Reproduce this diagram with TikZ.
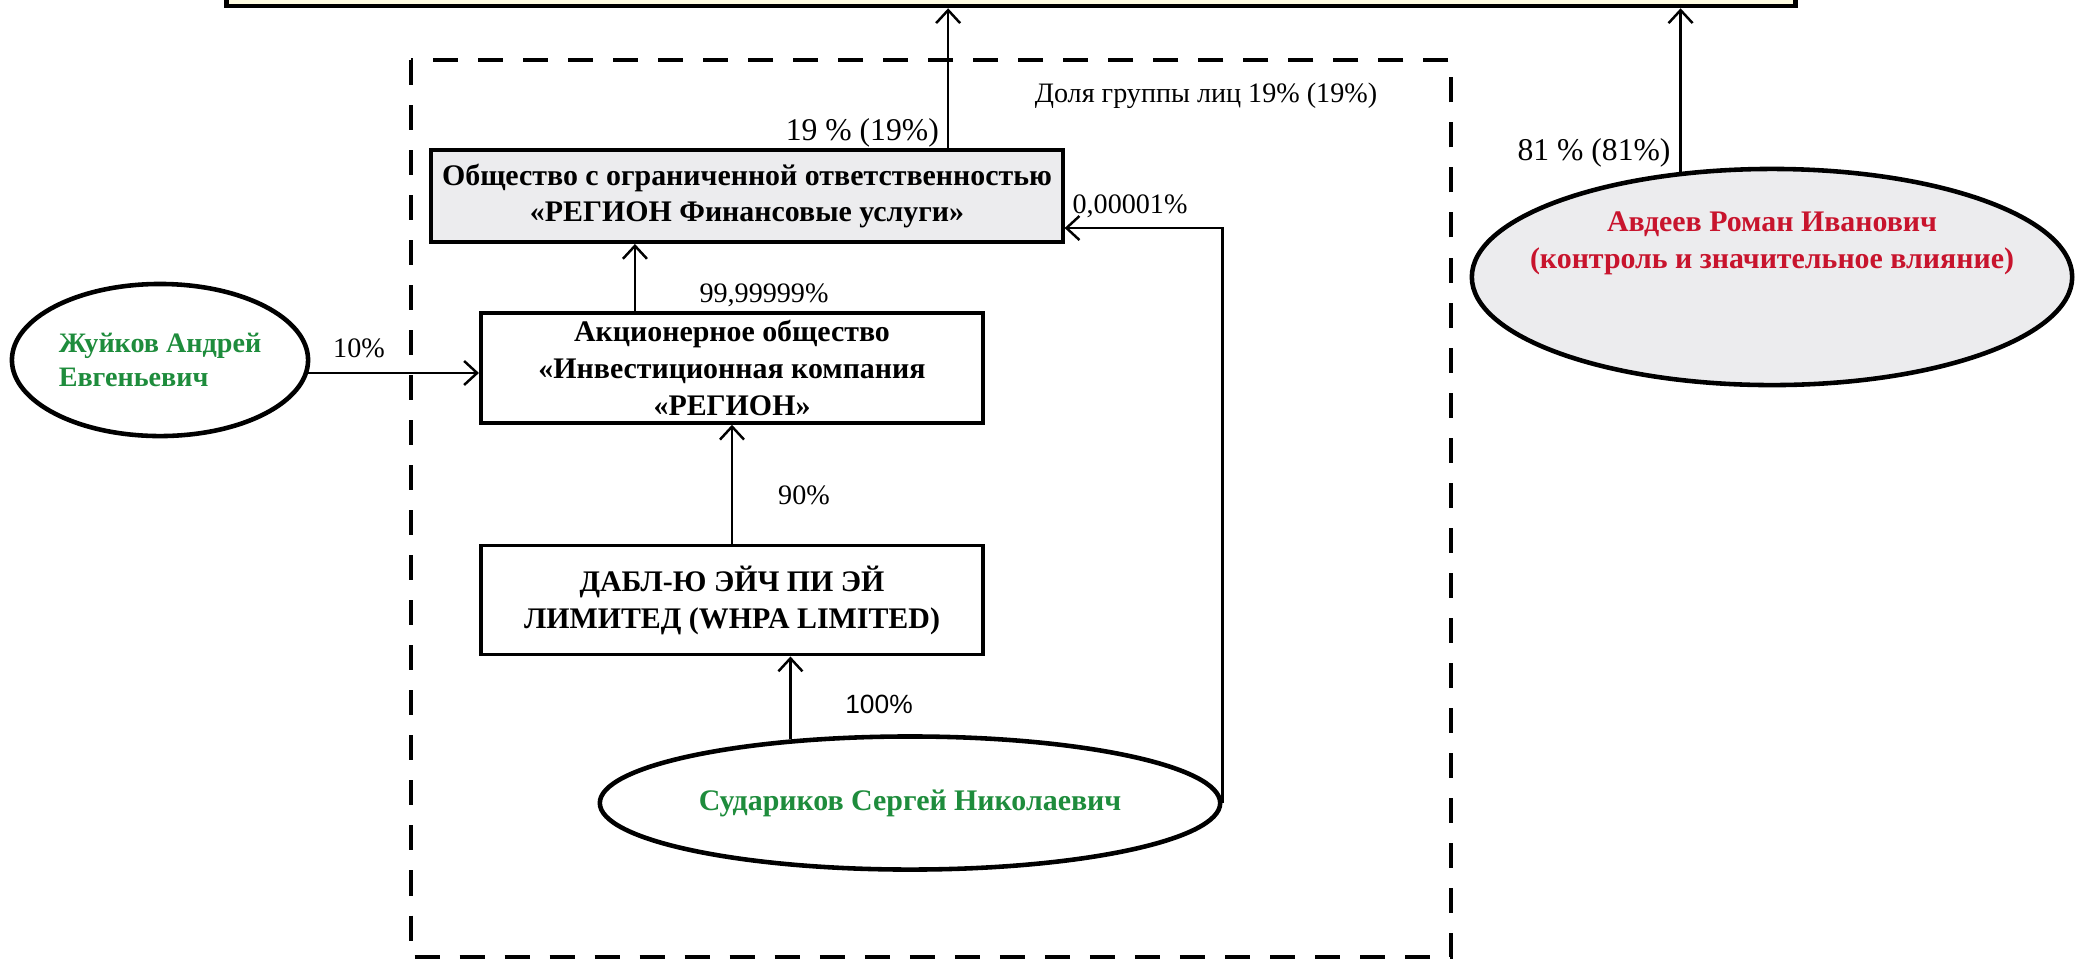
\documentclass[tikz,border=0pt]{standalone}
\usepackage{fontspec}
\setmainfont{Liberation Serif}
\newfontfamily\arialfont{Liberation Sans}
\usetikzlibrary{positioning}
\usetikzlibrary{shapes.geometric}
\usetikzlibrary{arrows.meta}

\definecolor{ownergreen}{RGB}{30,140,60}
\definecolor{ownerred}{RGB}{200,20,45}
\definecolor{boxgray}{RGB}{236,236,238}
\definecolor{targetyellow}{RGB}{255,252,225}

\begin{document}
\begin{tikzpicture}[
x=0.01cm, y=-0.01cm,
>={Straight Barb[length=1.3mm,width=2.4mm]},
firmnode/.style={rectangle, draw=black, line width=1.1pt, fill=white, align=center, inner sep=2pt, font=\fontsize{8.5}{10.5}\selectfont\bfseries},
personnode/.style={ellipse, draw=black, line width=1.3pt, fill=white, inner sep=0pt, align=center, font=\fontsize{8.5}{10.5}\selectfont\bfseries},
sharelabel/.style={inner sep=1pt, font=\fontsize{8}{9.6}\selectfont},
biglabel/.style={inner sep=1pt, font=\fontsize{9}{10.8}\selectfont},
link/.style={->, line width=0.7pt},
]
\useasboundingbox (0,0) rectangle (2083,960);

% Target company at the top (cut off)
\node[rectangle, draw=black, line width=1.3pt, fill=targetyellow, minimum width=15.68cm, minimum height=0.52cm] (target) at (1011,-20) {};

% Group of persons
\draw[line width=1.4pt, dash pattern=on 0.25cm off 0.2cm] (411,60) rectangle (1451,957);
\node[sharelabel] (grouplabel) at (1206,96) {Доля группы лиц 19\% (19\%)};

% Company nodes
\node[firmnode, fill=boxgray, minimum width=6.31cm, minimum height=0.92cm] (regionfs) at (747,196) {Общество с ограниченной ответственностью\\«РЕГИОН Финансовые услуги»};
\node[firmnode, minimum width=5.02cm, minimum height=0.98cm] (regionic) at (732,368) {Акционерное общество\\«Инвестиционная компания\\«РЕГИОН»};
\node[firmnode, minimum width=5.02cm, minimum height=1.09cm] (whpa) at (732,600) {ДАБЛ-Ю ЭЙЧ ПИ ЭЙ\\ЛИМИТЕД (WHPA LIMITED)};

% Person nodes
\node[personnode, text=ownergreen, align=left, minimum width=2.96cm, minimum height=1.52cm, font=\fontsize{8}{9.8}\selectfont\bfseries] (zhuikov) at (160,360) {Жуйков Андрей\\Евгеньевич};
\node[personnode, text=ownergreen, minimum width=6.2cm, minimum height=1.33cm] (sudarikov) at (910,803) {Судариков Сергей Николаевич};
\node[personnode, fill=boxgray, minimum width=6.0cm, minimum height=2.16cm] (avdeev) at (1772,277) {};
\node[align=center, text=ownerred, font=\fontsize{8.5}{10.5}\selectfont\bfseries] (avdeevname) at (1772,243) {Авдеев Роман Иванович\\(контроль и значительное влияние)};

% Share labels
\node[biglabel, anchor=east] (share19) at (943,133) {19 \% (19\%)};
\node[sharelabel] (sharetiny) at (1130,206) {0,00001\%};
\node[sharelabel] (share9999) at (764,295) {99,99999\%};
\node[sharelabel] (share10) at (359,348) {10\%};
\node[sharelabel] (share90) at (804,495) {90\%};
\node[inner sep=1pt, font=\arialfont\fontsize{7.5}{9}\selectfont] (share100) at (879,704) {100\%};
\node[biglabel] (share81) at (1594,153) {81 \% (81\%)};

\draw[link] ([xshift=2.01cm]regionfs.north) -- ([xshift=2.01cm]regionfs.north |- target.south);
\draw[link] (avdeev.131) -- (avdeev.131 |- target.south);
\draw[link] ([xshift=-0.97cm]regionic.north) -- ([xshift=-0.97cm]regionic.north |- regionfs.south);
\draw[link] (zhuikov.-5) -- (zhuikov.-5 -| regionic.west);
\draw[link] (whpa) -- (regionic);
\draw[link] (sudarikov.152) -- (sudarikov.152 |- whpa.south);
\draw[link] (sudarikov.east) |- ([yshift=-0.32cm]regionfs.east);
\end{tikzpicture}
\end{document}
